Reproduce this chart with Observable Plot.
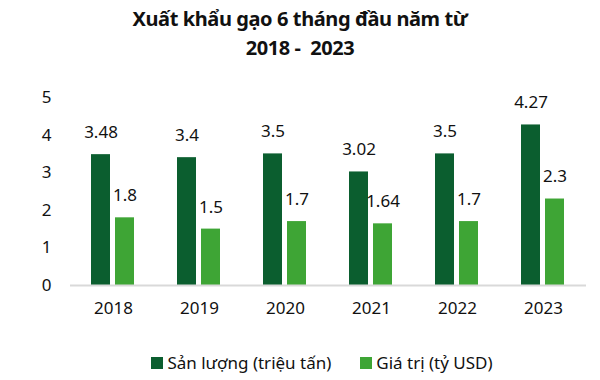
<!DOCTYPE html>
<html><head><meta charset="utf-8">
<script src="https://cdn.jsdelivr.net/npm/d3@7"></script>
<script src="https://cdn.jsdelivr.net/npm/@observablehq/plot@0.6"></script>
<style>
body{margin:0;background:#fff;font-family:"Noto Sans",sans-serif;color:#111;width:600px;}
#title{height:70px;box-sizing:border-box;padding-top:4px;text-align:center;font-weight:bold;font-size:20px;letter-spacing:-0.4px;line-height:29px;}
#legend{display:flex;justify-content:center;align-items:center;font-size:17px;margin-top:28px;line-height:20px;padding-left:44px;}
.item{display:flex;align-items:center;}
.sw{width:12px;height:12px;margin-right:4px;}
</style></head><body>
<div id="title">Xuất khẩu gạo 6 tháng đầu năm từ<br>2018 -&nbsp; 2023</div>
<div id="chart"></div>
<div id="legend"></div>
<script>
const years = ["2018","2019","2020","2021","2022","2023"];
const seriesNames = ["Sản lượng (triệu tấn)","Giá trị (tỷ USD)"];
const sanLuong = [3.48,3.4,3.5,3.02,3.5,4.27];
const giaTri = [1.8,1.5,1.7,1.64,1.7,2.3];
const colors = ["#0b5e2f","#3ea535"];
const yTicks = [0,1,2,3,4,5];

const data = [];
years.forEach((yr,i)=>{
  data.push({year:yr, series:seriesNames[0], value:sanLuong[i]});
  data.push({year:yr, series:seriesNames[1], value:giaTri[i]});
});

const chart = Plot.plot({
  width:600, height:255,
  marginLeft:68, marginRight:13, marginTop:27, marginBottom:40,
  style:{fontFamily:"Noto Sans, sans-serif", fontSize:"17px", color:"#111"},
  fx:{domain:years, padding:0, label:null, tickSize:0, tickPadding:16},
  x:{domain:seriesNames, paddingInner:0.204, paddingOuter:0.867, axis:null},
  y:{domain:[0,5], ticks:yTicks, tickSize:0, tickPadding:19, label:null, tickFormat:d=>d},
  color:{domain:seriesNames, range:colors},
  marks:[
    Plot.barY(data,{fx:"year", x:"series", y:"value", fill:"series"}),
    Plot.ruleY([0],{stroke:"#d9d9d9", strokeWidth:2}),
    Plot.text(data,{fx:"year", x:"series", y:"value", text:d=>String(d.value), dy:-22, fontSize:17, fill:"#111"})
  ]
});
document.getElementById("chart").appendChild(chart);

const leg = document.getElementById("legend");
seriesNames.forEach((s,i)=>{
  const it = document.createElement("div");
  it.className="item";
  if(i>0) it.style.marginLeft="29px";
  it.innerHTML = `<div class="sw" style="background:${colors[i]}"></div><span>${s}</span>`;
  leg.appendChild(it);
});
</script>
</body></html>
